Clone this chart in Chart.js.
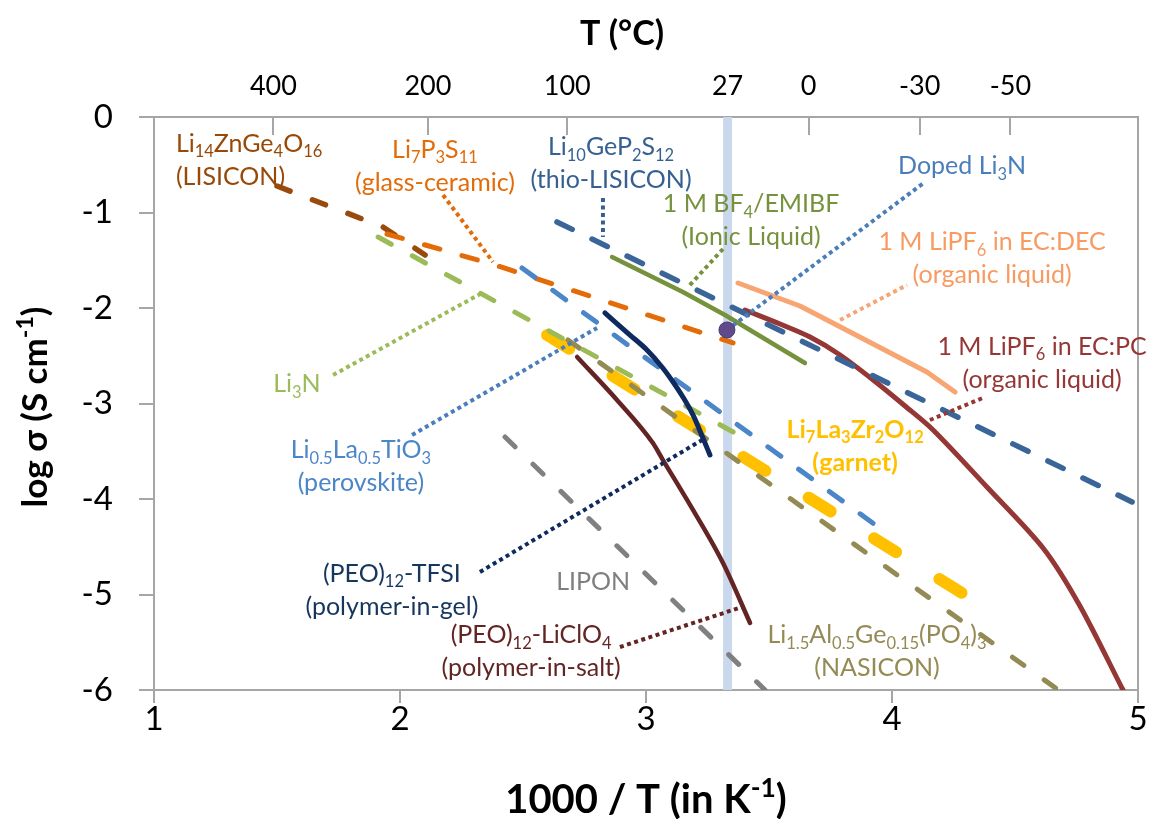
<!DOCTYPE html>
<html><head><meta charset="utf-8">
<script src="https://cdn.jsdelivr.net/npm/chart.js@4.4.1/dist/chart.umd.min.js"></script>
<style>html,body{margin:0;padding:0;background:#fff}#wrap{width:1150px;height:819px}</style>
</head><body><div id="wrap"><canvas id="c" width="1150" height="819"></canvas></div>
<script>
const FONT = 'Lato, "Open Sans", sans-serif';

// ---------- axes ----------
const xTickValues = [1, 2, 3, 4, 5];
const yTickValues = [0, -1, -2, -3, -4, -5, -6];
const topTempLabels = [400, 200, 100, 27, 0, -30, -50];   // °C
const roomTempC = 27;

// ---------- series (x = 1000/T in K^-1, y = log sigma) ----------
const lisiconX = [1.500, 1.931, 2.102];
const lisiconY = [-0.723, -1.152, -1.445];
const lps_X = [1.947, 2.386, 3.354];
const lps_Y = [-1.225, -1.550, -2.366];
const lgpsX = [2.638, 4.976];
const lgpsY = [-1.099, -4.031];
const ionicX = [2.862, 3.150, 3.321, 3.646];
const ionicY = [-1.466, -1.832, -2.073, -2.576];
const ecdecX = [3.374, 3.626, 3.736, 4.142, 4.256];
const ecdecY = [-1.738, -1.979, -2.126, -2.670, -2.880];
const ecpcX = [3.402, 3.545, 3.667, 3.789, 3.939, 4.053, 4.167, 4.386, 4.614, 4.764, 4.939];
const ecpcY = [-2.021, -2.168, -2.304, -2.492, -2.785, -3.026, -3.277, -3.874, -4.513, -5.120, -6.000];
const tfsiX = [2.833, 2.935, 3.004, 3.065, 3.110, 3.150, 3.191, 3.228, 3.260];
const tfsiY = [-2.052, -2.283, -2.440, -2.618, -2.775, -2.932, -3.120, -3.340, -3.539];
const clo4X = [2.720, 2.882, 3.028, 3.069, 3.167, 3.313, 3.423];
const clo4Y = [-2.513, -2.963, -3.414, -3.592, -4.010, -4.670, -5.298];
const liponX = [2.427, 3.484];
const liponY = [-3.351, -6.000];
const li3nX = [1.911, 3.362];
const li3nY = [-1.257, -3.309];
const nasiconX = [2.683, 4.671];
const nasiconY = [-2.335, -5.990];
const lltoX = [2.496, 3.972];
const lltoY = [-1.581, -4.346];
const llzoX = [2.598, 4.317];
const llzoY = [-2.283, -5.037];
const dopedLi3nX = [3.329];
const dopedLi3nY = [-2.230];

// ---------- leader lines (label -> curve) ----------
const leadLpsX = [2.175, 2.378],   leadLpsY = [-0.817, -1.518];
const leadLgpsX = [2.825, 2.825],  leadLgpsY = [-0.848, -1.257];
const leadIonicX = [3.313, 3.171], leadIonicY = [-1.382, -1.780];
const leadDopedX = [3.329, 4.134], leadDopedY = [-2.230, -0.681];
const leadEcdecX = [3.789, 4.061], leadEcdecY = [-2.126, -1.759];
const leadEcpcX = [4.154, 4.378],  leadEcpcY = [-3.173, -2.932];
const leadLi3nX = [1.728, 2.333],  leadLi3nY = [-2.702, -1.843];
const leadLltoX = [2.049, 2.801],  leadLltoY = [-3.330, -2.209];
const leadTfsiX = [2.325, 3.228],  leadTfsiY = [-4.764, -3.382];
const leadClo4X = [2.894, 3.390],  leadClo4Y = [-5.550, -5.131];

const pts = (xs, ys) => xs.map((x, i) => ({x: x, y: ys[i]}));
const roomX = 1000 / (roomTempC + 273.15);

function solid(xs, ys, color, w, order, smooth) {
  const d = {data: pts(xs, ys), showLine: true, borderColor: color, borderWidth: w, pointRadius: 0,
          borderCapStyle: 'round', borderJoinStyle: 'round', order: order, fill: false};
  if (smooth === 'mono') d.cubicInterpolationMode = 'monotone';
  else if (typeof smooth === 'number') d.tension = smooth;
  return d;
}
function dashed(xs, ys, color, w, dash, order) {
  const d = solid(xs, ys, color, w, order); d.borderDash = dash; return d;
}
function dotted(xs, ys, color, order) {
  return {data: pts(xs, ys), showLine: true, borderColor: color, borderWidth: 4, pointRadius: 0,
          borderCapStyle: 'butt', borderDash: [4, 3.5], order: order};
}

const datasets = [
  {data: pts(dopedLi3nX, dopedLi3nY), showLine: false, pointRadius: 8, pointBackgroundColor: '#5F4B8B',
   pointBorderColor: '#4B3B75', pointBorderWidth: 1, order: 0},
  dotted(leadLpsX, leadLpsY, '#E36C09', 1),
  dotted(leadLgpsX, leadLgpsY, '#376092', 1),
  dotted(leadIonicX, leadIonicY, '#76923C', 1),
  dotted(leadDopedX, leadDopedY, '#4A7EBB', 1),
  dotted(leadEcdecX, leadEcdecY, '#F8A574', 1),
  dotted(leadEcpcX, leadEcpcY, '#953735', 1),
  dotted(leadLi3nX, leadLi3nY, '#9BBB59', 1),
  dotted(leadLltoX, leadLltoY, '#4A7EBB', 1),
  dotted(leadTfsiX, leadTfsiY, '#0E2A5E', 1),
  dotted(leadClo4X, leadClo4Y, '#632523', 1),
  dashed(lgpsX, lgpsY, '#3A6598', 5.5, [17, 22], 2),
  solid(ecpcX, ecpcY, '#953735', 5, 3, 0.3),
  solid(ecdecX, ecdecY, '#F8A574', 5, 4),
  solid(ionicX, ionicY, '#76923C', 4.5, 5),
  solid(tfsiX, tfsiY, '#0E2A5E', 5, 6, 'mono'),
  solid(clo4X, clo4Y, '#632523', 4.5, 7, 'mono'),
  dashed(liponX, liponY, '#808080', 5, [14, 25], 8),
  dashed(li3nX, li3nY, '#9BBB59', 5, [15, 24], 9),
  dashed(nasiconX, nasiconY, '#948A54', 5, [14, 25], 10),
  dashed(lltoX, lltoY, '#4A86C8', 5, [16, 22], 11),
  dashed(lps_X, lps_Y, '#E36C09', 5, [16, 23], 12),
  dashed(lisiconX, lisiconY, '#9A4A0C', 5.5, [14, 24], 13),
  dashed(llzoX, llzoY, '#FFC000', 12, [26, 51], 14),
  {data: pts([roomX, roomX], [0, -6]), showLine: true, borderColor: '#C9D8EC', borderWidth: 9,
   pointRadius: 0, borderCapStyle: 'butt', order: 20}
];

// ---------- labels ----------
const annotations = [
  {lines: ['Li_{14}ZnGe_{4}O_{16}', '(LISICON)'], x: 1.089, y: -0.366, align: 'left', color: '#984807'},
  {lines: ['Li_{7}P_{3}S_{11}', '(glass-ceramic)'], x: 2.142, y: -0.429, align: 'center', color: '#E36C09'},
  {lines: ['Li_{10}GeP_{2}S_{12}', '(thio-LISICON)'], x: 2.858, y: -0.398, align: 'center', color: '#376092'},
  {lines: ['1 M BF_{4}/EMIBF', '(Ionic Liquid)'], x: 3.427, y: -0.995, align: 'center', color: '#76923C'},
  {lines: ['Doped Li_{3}N'], x: 4.285, y: -0.597, align: 'center', color: '#4A7EBB'},
  {lines: ['1 M LiPF_{6} in EC:DEC', '(organic liquid)'], x: 4.407, y: -1.393, align: 'center', color: '#F79B63'},
  {lines: ['1 M LiPF_{6} in EC:PC', '(organic liquid)'], x: 4.610, y: -2.492, align: 'center', color: '#953735'},
  {lines: ['Li_{3}N'], x: 1.581, y: -2.880, align: 'center', color: '#9BBB59'},
  {lines: ['Li_{0.5}La_{0.5}TiO_{3}', '(perovskite)'], x: 1.841, y: -3.571, align: 'center', color: '#4A86C8'},
  {lines: ['Li_{7}La_{3}Zr_{2}O_{12}', '(garnet)'], x: 3.850, y: -3.361, align: 'center', color: '#FFC000', bold: true},
  {lines: ['(PEO)_{12}-TFSI', '(polymer-in-gel)'], x: 1.967, y: -4.869, align: 'center', color: '#17365D'},
  {lines: ['LIPON'], x: 2.785, y: -4.953, align: 'center', color: '#7F7F7F'},
  {lines: ['(PEO)_{12}-LiClO_{4}', '(polymer-in-salt)'], x: 2.533, y: -5.508, align: 'center', color: '#632523'},
  {lines: ['Li_{1.5}Al_{0.5}Ge_{0.15}(PO_{4})_{3}', '(NASICON)'], x: 3.939, y: -5.508, align: 'center', color: '#948A54'}
];
const LABEL_SIZE = 25, LINE_GAP = 33;

function drawRich(ctx, text, x, y, size, weight, color, align) {
  const runs = [];
  const re = /([_^])\{([^}]*)\}|([^_^]+)/g;
  let m;
  while ((m = re.exec(text))) {
    if (m[1]) runs.push({t: m[2], k: m[1]}); else runs.push({t: m[3], k: ''});
  }
  const small = size * 0.66;
  let w = 0;
  runs.forEach(r => {
    ctx.font = weight + ' ' + (r.k ? small : size) + 'px ' + FONT;
    r.w = ctx.measureText(r.t).width; w += r.w;
  });
  let cx = align === 'center' ? x - w / 2 : (align === 'right' ? x - w : x);
  ctx.fillStyle = color; ctx.textAlign = 'left'; ctx.textBaseline = 'alphabetic';
  runs.forEach(r => {
    ctx.font = weight + ' ' + (r.k ? small : size) + 'px ' + FONT;
    const dy = r.k === '_' ? size * 0.22 : (r.k === '^' ? -size * 0.4 : 0);
    ctx.fillText(r.t, cx, y + dy);
    cx += r.w;
  });
}

const labelPlugin = {
  id: 'richLabels',
  afterDraw(chart) {
    const ctx = chart.ctx, xs = chart.scales.x, ys = chart.scales.y, a = chart.chartArea;
    ctx.save();
    annotations.forEach(an => {
      const px = xs.getPixelForValue(an.x), py = ys.getPixelForValue(an.y);
      an.lines.forEach((ln, i) => drawRich(ctx, ln, px, py + i * LINE_GAP, LABEL_SIZE,
        an.bold ? 'bold' : 'normal', an.color, an.align));
    });
    // axis titles
    drawRich(ctx, '1000 / T (in K^{-1})', (a.left + a.right) / 2, 813, 40, 'bold', '#000', 'center');
    drawRich(ctx, 'T (°C)', 622, 45, 34, 'bold', '#000', 'center');
    ctx.translate(47, 407); ctx.rotate(-Math.PI / 2);
    drawRich(ctx, 'log σ (S cm^{-1})', 0, 0, 35, 'bold', '#000', 'center');
    ctx.restore();
  }
};

const axisGray = '#A6A6A6';
new Chart(document.getElementById('c'), {
  type: 'scatter',
  data: {datasets: datasets},
  plugins: [labelPlugin],
  options: {
    responsive: false, animation: false, devicePixelRatio: 1,
    layout: {padding: 0},
    plugins: {legend: {display: false}, tooltip: {enabled: false}},
    scales: {
      x: {type: 'linear', position: 'bottom', min: 1, max: 5,
          afterBuildTicks: s => { s.ticks = xTickValues.map(v => ({value: v})); },
          ticks: {font: {family: FONT, size: 33}, color: '#000', padding: -3, autoSkip: false, maxRotation: 0},
          grid: {drawOnChartArea: false, drawTicks: true, tickLength: 13, color: axisGray, lineWidth: 2},
          border: {display: true, color: axisGray, width: 2},
          afterFit: s => { s.height = 129; }},
      x2: {type: 'linear', position: 'top', min: 1, max: 5,
          afterBuildTicks: s => { s.ticks = topTempLabels.map(t => ({value: 1000 / (t + 273.15)})); },
          ticks: {font: {family: FONT, size: 27}, color: '#000', padding: 33, autoSkip: false, maxRotation: 0,
                  callback: (v, i) => String(topTempLabels[i])},
          grid: {drawOnChartArea: false, drawTicks: true, tickLength: -18, color: axisGray, lineWidth: 2},
          border: {display: true, color: axisGray, width: 2},
          afterFit: s => { s.height = 117; }},
      y: {type: 'linear', position: 'left', min: -6, max: 0,
          afterBuildTicks: s => { s.ticks = yTickValues.map(v => ({value: v})); },
          ticks: {font: {family: FONT, size: 33}, color: '#000', padding: 26, autoSkip: false},
          grid: {drawOnChartArea: false, drawTicks: true, tickLength: 15, color: axisGray, lineWidth: 2},
          border: {display: true, color: axisGray, width: 2},
          afterFit: s => { s.width = 154; }},
      y2: {type: 'linear', position: 'right', min: -6, max: 0,
          ticks: {display: false},
          grid: {drawOnChartArea: false, drawTicks: false},
          border: {display: true, color: axisGray, width: 2},
          afterFit: s => { s.width = 12; }}
    }
  }
});
</script></body></html>
